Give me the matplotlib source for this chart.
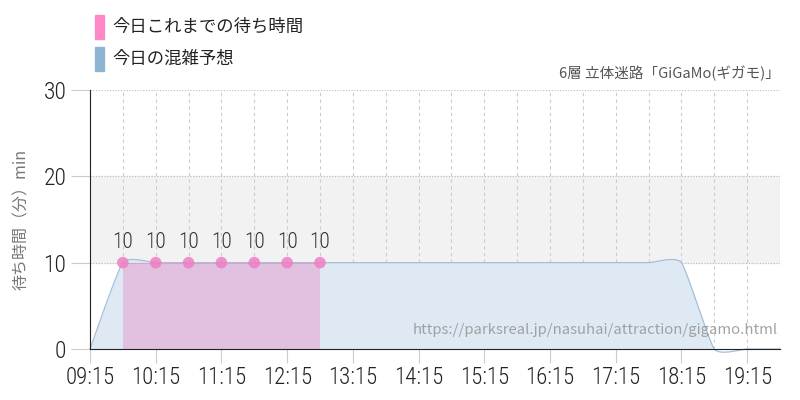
import numpy as np
import matplotlib
matplotlib.use("Agg")
import matplotlib.pyplot as plt
from matplotlib.patches import Rectangle

plt.rcParams['font.family'] = ['Noto Sans CJK JP', 'DejaVu Sans']

# data (hours as decimal)
actual_times = [9.75, 10.25, 10.75, 11.25, 11.75, 12.25, 12.75]
actual_waits = [10, 10, 10, 10, 10, 10, 10]

forecast_times = [9.25, 9.75, 10.25, 10.75, 11.25, 11.75, 12.25, 12.75, 13.25, 13.75,
                  14.25, 14.75, 15.25, 15.75, 16.25, 16.75, 17.25, 17.75, 18.25,
                  18.75, 19.25, 19.75]
forecast_waits = [0, 10, 10, 10, 10, 10, 10, 10, 10, 10,
                  10, 10, 10, 10, 10, 10, 10, 10, 10,
                  0, 0, 0]

tick_hours = [9.25, 10.25, 11.25, 12.25, 13.25, 14.25, 15.25, 16.25, 17.25, 18.25, 19.25]
tick_labels = ['09:15', '10:15', '11:15', '12:15', '13:15', '14:15', '15:15',
               '16:15', '17:15', '18:15', '19:15']

title = '6層 立体迷路「GiGaMo(ギガモ)」'
url = 'https://parksreal.jp/nasuhai/attraction/gigamo.html'


def cardinal(xs, ys, k=0.25, n=20):
    # cardinal spline through the points, k scales the tangents
    xs = np.asarray(xs, float)
    ys = np.asarray(ys, float)
    px = np.concatenate([[xs[0]], xs, [xs[-1]]])
    py = np.concatenate([[ys[0]], ys, [ys[-1]]])
    out_x, out_y = [], []
    for i in range(1, len(px) - 2):
        t = np.linspace(0, 1, n, endpoint=False)
        for arr, p in ((out_x, px), (out_y, py)):
            p0, p1, p2, p3 = p[i - 1], p[i], p[i + 1], p[i + 2]
            m1 = (p2 - p0) * k
            m2 = (p3 - p1) * k
            h00 = 2 * t**3 - 3 * t**2 + 1
            h10 = t**3 - 2 * t**2 + t
            h01 = -2 * t**3 + 3 * t**2
            h11 = t**3 - t**2
            arr.extend(h00 * p1 + h10 * m1 + h01 * p2 + h11 * m2)
    out_x.append(xs[-1])
    out_y.append(ys[-1])
    return np.array(out_x), np.array(out_y)


num_font = ['Roboto Condensed', 'DejaVu Sans']

fig = plt.figure(figsize=(8, 4), dpi=100)
ax = fig.add_axes([0.1125, 0.1275, 0.8625, 0.6475])
ax.set_xlim(9.25, 19.75)
ax.set_ylim(0, 30)

ax.axhspan(10, 20, color='#f2f2f2', zorder=0)
for y in [10, 20, 30]:
    ax.axhline(y, color='#bbbbbb', lw=0.8, ls=(0, (1, 1.5)), zorder=1)
for x in np.arange(9.75, 19.76, 0.5):
    ax.axvline(x, color='#cccccc', lw=0.8, ls=(0, (3, 3)), zorder=1)

sx, sy = cardinal(forecast_times, forecast_waits)
ax.fill_between(sx, sy, 0, color='#dfe9f3', lw=0, zorder=2)
ax.plot(sx, sy, color='#a3c0da', lw=0.9, zorder=3, clip_on=False)

ax.fill_between(actual_times, actual_waits, 0, color='#e2c0df', lw=0, zorder=4)
ax.plot(actual_times, actual_waits, color='#d9a0d0', lw=0.8, zorder=5)
ax.scatter(actual_times, actual_waits, s=70, color='#f07ec4', alpha=0.85,
           edgecolors='none', zorder=6, clip_on=False)
for t, w in zip(actual_times, actual_waits):
    ax.text(t, w + 1.1, str(w), ha='center', va='bottom', fontsize=15.5,
            color='#333333', family=num_font, weight='light', zorder=7)

for side in ['top', 'right']:
    ax.spines[side].set_visible(False)
ax.spines['left'].set_color('#222222')
ax.spines['bottom'].set_color('#222222')
ax.spines['left'].set_zorder(8)
ax.spines['bottom'].set_zorder(8)

ax.set_yticks([0, 10, 20, 30])
ax.set_yticklabels(['0', '10', '20', '30'], family=num_font, fontsize=17,
                   color='#222222', weight='light')
ax.set_xticks(tick_hours)
ax.set_xticklabels(tick_labels, family=num_font, fontsize=16.5, color='#222222',
                   weight='light')
ax.tick_params(axis='y', length=14, color='#cccccc', pad=3)
ax.tick_params(axis='x', length=10, color='#cccccc', pad=2)

ax.set_ylabel('待ち時間（分）min', fontsize=11.5, color='#777777', labelpad=10)

ax.text(1.0, 1.035, title, transform=ax.transAxes, ha='right', va='bottom',
        fontsize=10.5, color='#555555')
ax.text(0.997, 0.045, url, transform=ax.transAxes, ha='right', va='bottom',
        fontsize=10.7, color='#999999', alpha=0.9, zorder=9)

# legend
fig.patches.append(Rectangle((95 / 800, 1 - 39 / 400), 9 / 800, 24 / 400,
                             transform=fig.transFigure, color='#ff88c8'))
fig.patches.append(Rectangle((95 / 800, 1 - 71 / 400), 9 / 800, 24 / 400,
                             transform=fig.transFigure, color='#8fb4d2'))
fig.text(112 / 800, 1 - 27 / 400, '今日これまでの待ち時間', fontsize=12.5,
         color='#222222', va='center')
fig.text(112 / 800, 1 - 59 / 400, '今日の混雑予想', fontsize=12.5,
         color='#222222', va='center')

fig.savefig('out.png', dpi=100)
